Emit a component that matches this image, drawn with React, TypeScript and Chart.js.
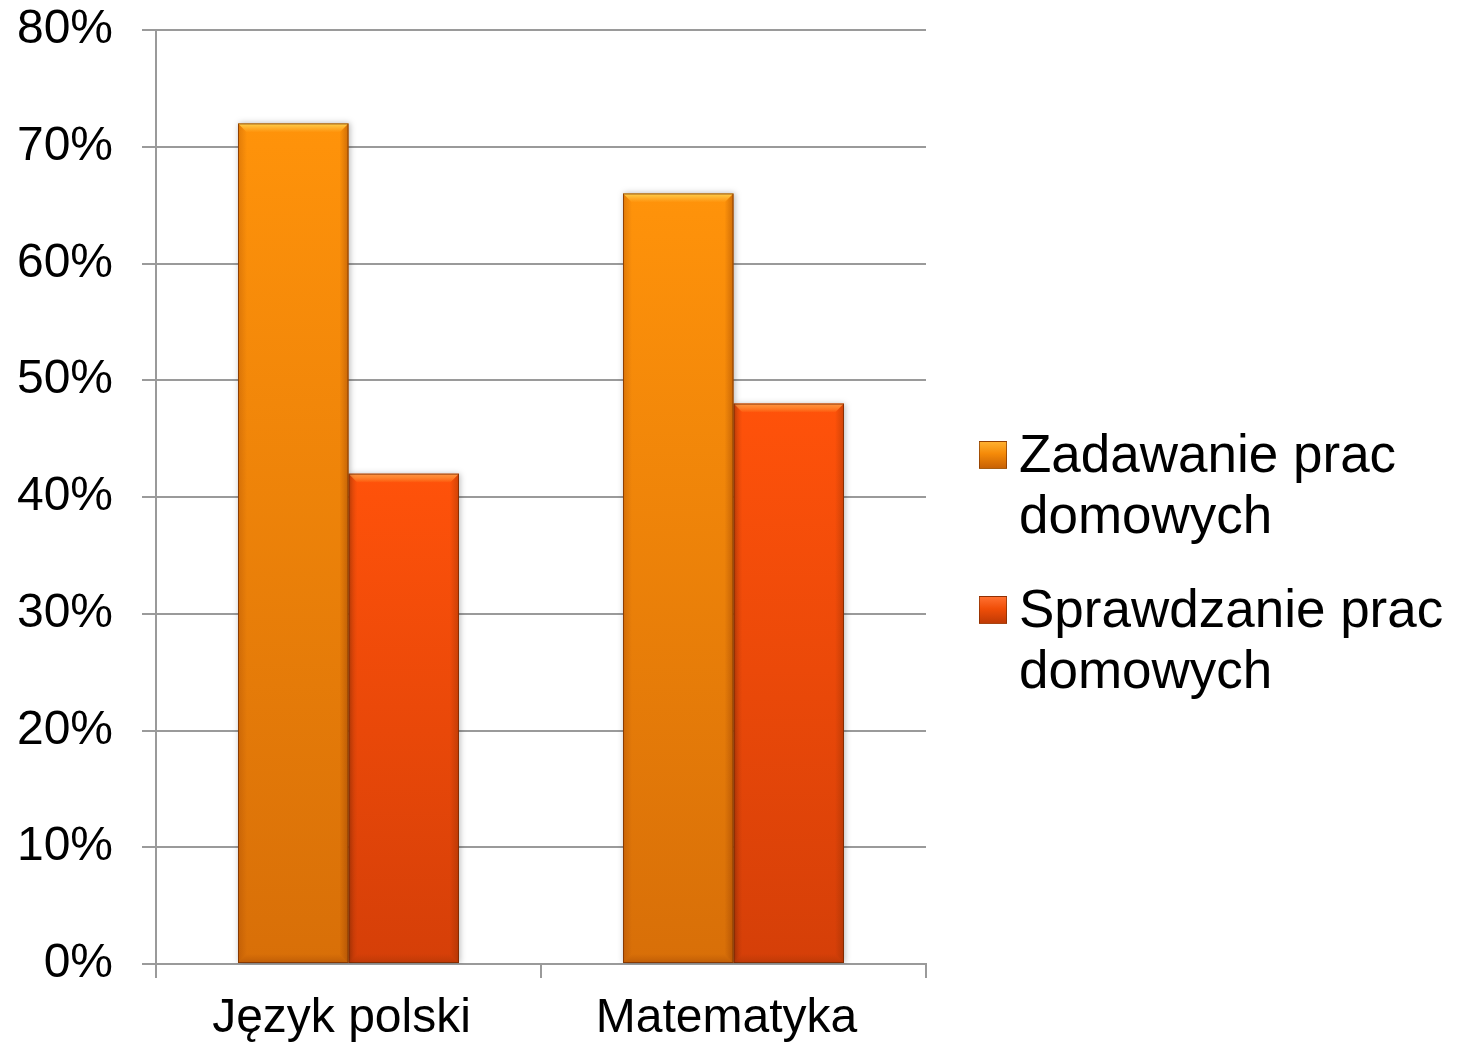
import React, { useEffect, useRef } from "react";
import { Chart, registerables } from "chart.js";

Chart.register(...registerables);

const categories: string[] = ["Język polski", "Matematyka"];
const seriesNames: string[] = ["Zadawanie prac domowych", "Sprawdzanie prac domowych"];
const legendLines: string[][] = [
  ["Zadawanie prac", "domowych"],
  ["Sprawdzanie prac", "domowych"],
];
const zadawanie: number[] = [72, 66];
const sprawdzanie: number[] = [42, 48];
const yTicks: number[] = [0, 10, 20, 30, 40, 50, 60, 70, 80];

const topColors = ["#FF930A", "#FF520A"];
const bottomColors = ["#D86F08", "#D53F08"];
const FONT = "'Liberation Sans', Arial, sans-serif";

function makeGradient(ctx: any, series: number) {
  const chart = ctx.chart;
  const area = chart.chartArea;
  if (!area) return topColors[series];
  const c = chart.ctx as CanvasRenderingContext2D;
  const yScale = chart.scales.y;
  const v = ctx.raw as number;
  const top = yScale ? yScale.getPixelForValue(v) : area.top;
  const g = c.createLinearGradient(0, top, 0, area.bottom);
  g.addColorStop(0, topColors[series]);
  g.addColorStop(1, bottomColors[series]);
  return g;
}

const bevelPlugin = {
  id: "bevel",
  beforeDatasetDraw(chart: any) {
    const c = chart.ctx as CanvasRenderingContext2D;
    c.save();
    c.shadowColor = "rgba(0,0,0,0.28)";
    c.shadowBlur = 6;
    c.shadowOffsetX = 1;
    c.shadowOffsetY = 0;
  },
  afterDatasetDraw(chart: any, args: any) {
    const c = chart.ctx as CanvasRenderingContext2D;
    c.restore();
    const meta = chart.getDatasetMeta(args.index);
    meta.data.forEach((bar: any) => {
      const { x, y, base, width } = bar.getProps(["x", "y", "base", "width"], true);
      const l = x - width / 2;
      const r = x + width / 2;
      const b = 9;
      c.save();
      c.beginPath();
      c.moveTo(l, y);
      c.lineTo(r, y);
      c.lineTo(r - b, y + b);
      c.lineTo(l + b, y + b);
      c.closePath();
      const hg = c.createLinearGradient(0, y, 0, y + b);
      hg.addColorStop(0, args.index === 0 ? "rgba(255,215,80,0.95)" : "rgba(255,150,70,0.95)");
      hg.addColorStop(1, "rgba(255,200,80,0.0)");
      c.fillStyle = hg;
      c.fill();
      c.beginPath();
      c.moveTo(r, y);
      c.lineTo(r, base);
      c.lineTo(r - b, base - b);
      c.lineTo(r - b, y + b);
      c.closePath();
      const rg = c.createLinearGradient(r - b, 0, r, 0);
      rg.addColorStop(0, "rgba(120,40,0,0)");
      rg.addColorStop(1, "rgba(120,40,0,0.35)");
      c.fillStyle = rg;
      c.fill();
      c.beginPath();
      c.moveTo(l, y);
      c.lineTo(l + b, y + b);
      c.lineTo(l + b, base - b);
      c.lineTo(l, base);
      c.closePath();
      const lg = c.createLinearGradient(l, 0, l + b, 0);
      lg.addColorStop(0, "rgba(120,40,0,0.22)");
      lg.addColorStop(1, "rgba(120,40,0,0)");
      c.fillStyle = lg;
      c.fill();
      c.beginPath();
      c.moveTo(l, base);
      c.lineTo(r, base);
      c.lineTo(r - b, base - b);
      c.lineTo(l + b, base - b);
      c.closePath();
      const bg = c.createLinearGradient(0, base - b, 0, base);
      bg.addColorStop(0, "rgba(120,40,0,0)");
      bg.addColorStop(1, "rgba(120,40,0,0.25)");
      c.fillStyle = bg;
      c.fill();
      c.strokeStyle = "rgba(110,40,0,0.7)";
      c.lineWidth = 1;
      c.strokeRect(l + 0.5, y + 0.5, width - 1, base - y - 1);
      c.restore();
    });
  },
};

export default function App() {
  const canvasRef = useRef<HTMLCanvasElement | null>(null);

  useEffect(() => {
    document.body.style.margin = "0";
    const canvas = canvasRef.current;
    if (!canvas) return;
    const chart = new Chart(canvas, {
      type: "bar",
      data: {
        labels: categories,
        datasets: [
          {
            label: seriesNames[0],
            data: zadawanie,
            backgroundColor: (ctx: any) => makeGradient(ctx, 0),
            borderWidth: 0,
          },
          {
            label: seriesNames[1],
            data: sprawdzanie,
            backgroundColor: (ctx: any) => makeGradient(ctx, 1),
            borderWidth: 0,
          },
        ],
      },
      options: {
        animation: false,
        responsive: false,
        maintainAspectRatio: false,
        layout: { padding: { top: 30, right: 546, left: 0, bottom: 0 } },
        plugins: {
          legend: { display: false },
          tooltip: { enabled: false },
        },
        datasets: {
          bar: { categoryPercentage: 0.574, barPercentage: 1 },
        },
        scales: {
          x: {
            grid: {
              display: true,
              drawOnChartArea: false,
              drawTicks: true,
              tickLength: 14,
              color: "#9a9a9a",
              lineWidth: 2,
              offset: true,
            },
            border: { display: true, color: "#9a9a9a", width: 2 },
            ticks: {
              color: "#000",
              font: { family: FONT, size: 48 },
              padding: 12,
              labelOffset: -7,
            },
            afterFit: (scale: any) => {
              scale.height = 84;
            },
          },
          y: {
            min: 0,
            max: 80,
            afterBuildTicks: (scale: any) => {
              scale.ticks = yTicks.map((v) => ({ value: v }));
            },
            grid: {
              color: "#9a9a9a",
              lineWidth: 2,
              tickLength: 14,
            },
            border: { display: true, color: "#9a9a9a", width: 2 },
            ticks: {
              color: "#000",
              font: { family: FONT, size: 48 },
              padding: 29,
              callback: (v: any) => `${v}%`,
            },
            afterFit: (scale: any) => {
              scale.width = 156;
              scale.paddingTop = 0;
              scale.paddingBottom = 0;
            },
          },
        },
      },
      plugins: [bevelPlugin],
    });
    return () => chart.destroy();
  }, []);

  const markerBg = [
    "linear-gradient(180deg, #FFB030 0%, #F58A08 45%, #C86205 100%)",
    "linear-gradient(180deg, #FF7030 0%, #F04E08 45%, #C03A05 100%)",
  ];

  return (
    <div style={{ position: "relative", width: 1472, height: 1048, background: "#fff" }}>
      <canvas ref={canvasRef} width={1472} height={1048} style={{ display: "block" }} />
      <div style={{ position: "absolute", left: 979, top: 423, fontFamily: FONT, fontSize: 53, lineHeight: "61px", color: "#000" }}>
        {legendLines.map((lines, i) => (
          <div key={i} style={{ position: "relative", paddingLeft: 40, marginBottom: i === 0 ? 33 : 0 }}>
            <div
              style={{
                position: "absolute",
                left: 0,
                top: 18,
                width: 26,
                height: 26,
                background: markerBg[i],
                border: "1px solid rgba(110,40,0,0.6)",
              }}
            />
            {lines.map((t, j) => (
              <div key={j} style={{ whiteSpace: "nowrap" }}>{t}</div>
            ))}
          </div>
        ))}
      </div>
    </div>
  );
}
